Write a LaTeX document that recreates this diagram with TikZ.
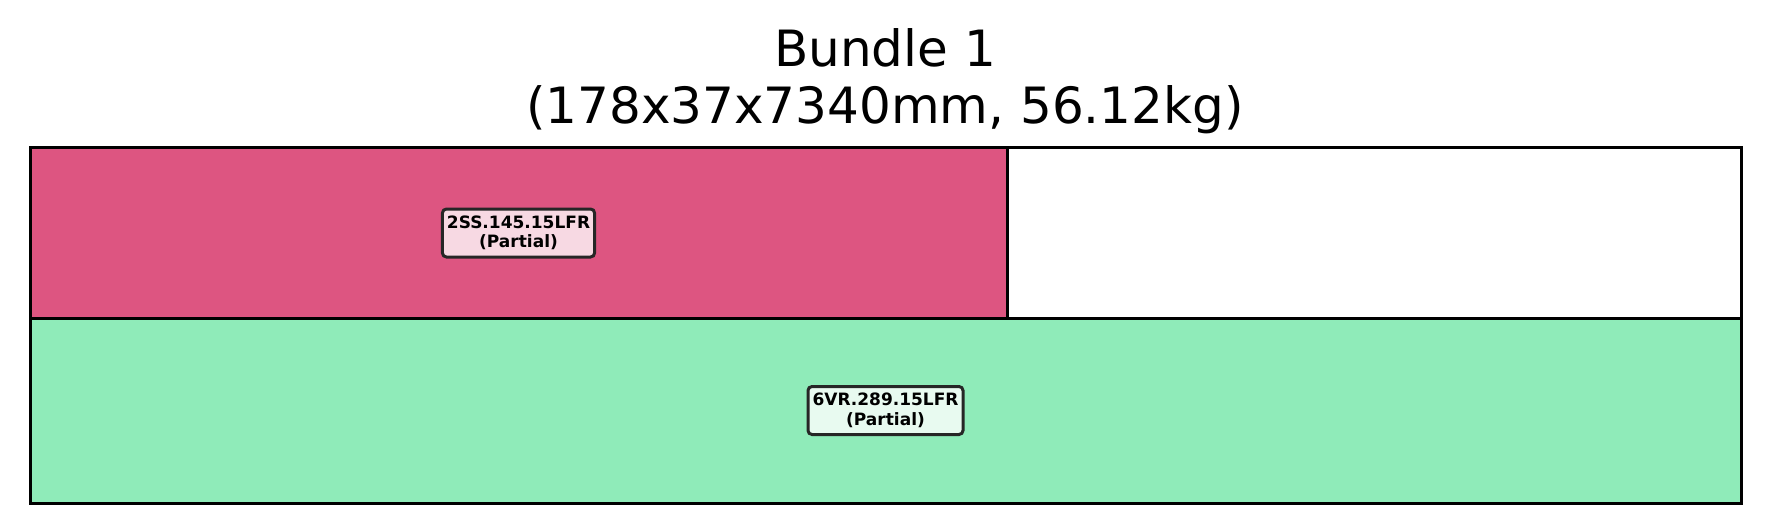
\documentclass[tikz,border=0pt]{standalone}
\usepackage{fontspec}
\setmainfont{DejaVu Sans}
\definecolor{pinkreg}{RGB}{221,85,129}
\definecolor{greenreg}{RGB}{143,235,185}
\definecolor{pinklab}{RGB}{247,217,227}
\definecolor{greenlab}{RGB}{232,250,240}
\definecolor{labedge}{RGB}{38,38,38}
\tikzset{
  region/.style={draw=black, line width=3pt},
  partlabel/.style={draw=labedge, line width=3pt, rounded corners=4pt, inner xsep=4.5pt, inner ysep=0pt,
    minimum height=48pt, align=center, font=\fontsize{17}{19.5}\selectfont\bfseries},
  titletext/.style={anchor=base, inner sep=0pt, font=\fontsize{50}{58}\selectfont}
}
\begin{document}
\begin{tikzpicture}[x=1pt, y=-1pt]
\useasboundingbox (0,0) rectangle (1770,532);
\fill[white] (0,0) rectangle (1770,532);
% regions
\draw[region, fill=pinkreg] (30,148) rectangle (1007,318);
\draw[region, fill=white] (1007,148) rectangle (1741,318);
\draw[region, fill=greenreg] (30,318) rectangle (1741,503);
\draw[black, line width=3pt] (30,148) rectangle (1741,503);
% labels
\node[partlabel, fill=pinklab] (l1) at (518.5,233) {2SS.145.15LFR\\(Partial)};
\node[partlabel, fill=greenlab] (l2) at (885.5,410.5) {6VR.289.15LFR\\(Partial)};
% title
\node[titletext] (t1) at (885,67) {Bundle 1};
\node[titletext] (t2) at (885,124) {(178x37x7340mm, 56.12kg)};
\end{tikzpicture}
\end{document}
